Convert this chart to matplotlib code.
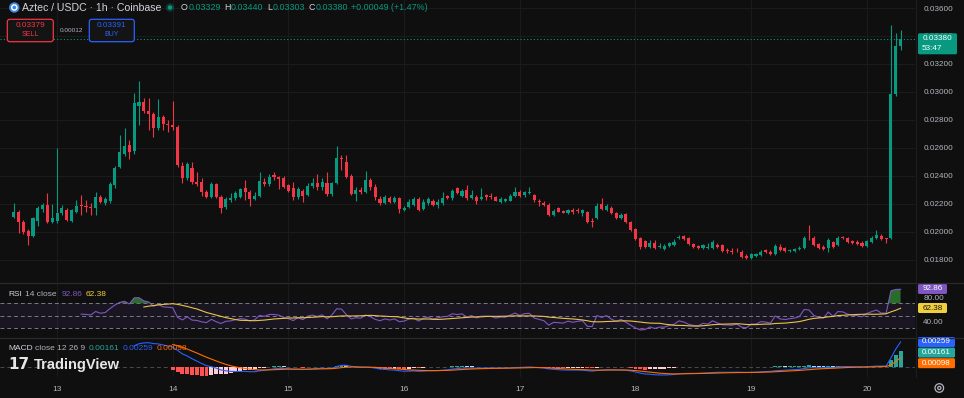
import numpy as np
import matplotlib
matplotlib.use("Agg")
import matplotlib.pyplot as plt
from matplotlib.patches import FancyBboxPatch, Circle

plt.rcParams['font.family'] = ['Liberation Sans', 'DejaVu Sans']

# ---------------- data (prices in units of 0.00001) ----------------
PRICE_UNIT = 1e-5
opens = [2109, 2145, 2074, 2007, 1974, 2081, 2164, 2193, 2071, 2079, 2136, 2157, 2081, 2145, 2193, 2186, 2181, 2174, 2250, 2209,
         2221, 2336, 2466, 2557, 2621, 2579, 2902, 2931, 2864, 2845, 2741, 2824, 2768, 2764, 2752, 2474, 2384, 2459, 2359, 2355,
         2288, 2252, 2341, 2252, 2176, 2229, 2240, 2252, 2316, 2288, 2234, 2257, 2359, 2343, 2407, 2391, 2388, 2336, 2312, 2248,
         2295, 2264, 2329, 2352, 2324, 2352, 2271, 2352, 2526, 2498, 2400, 2269, 2300, 2288, 2371, 2324, 2236, 2209, 2240, 2216,
         2240, 2157, 2181, 2193, 2234, 2162, 2205, 2221, 2193, 2205, 2257, 2240, 2312, 2259, 2300, 2245, 2252, 2236, 2264, 2259,
         2248, 2216, 2221, 2224, 2257, 2288, 2264, 2279, 2264, 2221, 2205, 2193, 2121, 2169, 2150, 2133, 2157, 2157, 2138, 2141,
         2079, 2098, 2198, 2157, 2174, 2138, 2102, 2126, 2074, 2019, 1955, 1938, 1895, 1919, 1890, 1879, 1902, 1907, 1955, 1974,
         1955, 1912, 1902, 1884, 1884, 1884, 1907, 1907, 1869, 1867, 1874, 1860, 1831, 1812, 1831, 1836, 1871, 1859, 1841, 1895,
         1884, 1864, 1867, 1876, 1884, 1959, 1959, 1912, 1895, 1884, 1926, 1907, 1964, 1955, 1936, 1931, 1924, 1902, 1931, 1955,
         1974, 1955, 1955, 2983, 3329]
highs = [2205, 2157, 2086, 2021, 2107, 2186, 2207, 2279, 2200, 2598, 2193, 2171, 2164, 2229, 2264, 2229, 2207, 2286, 2264, 2250,
         2357, 2471, 2693, 2745, 2657, 2991, 3081, 2957, 2955, 2857, 2950, 2836, 2800, 2936, 2764, 2500, 2500, 2500, 2429, 2386,
         2300, 2357, 2350, 2264, 2250, 2279, 2293, 2314, 2371, 2300, 2286, 2429, 2386, 2414, 2431, 2400, 2400, 2343, 2359, 2321,
         2307, 2350, 2386, 2412, 2386, 2426, 2357, 2614, 2550, 2550, 2414, 2321, 2321, 2436, 2386, 2343, 2257, 2264, 2257, 2257,
         2250, 2186, 2236, 2250, 2250, 2236, 2250, 2236, 2236, 2283, 2264, 2307, 2320, 2307, 2336, 2300, 2264, 2312, 2271, 2279,
         2257, 2250, 2243, 2271, 2321, 2300, 2293, 2319, 2271, 2236, 2221, 2207, 2164, 2179, 2157, 2164, 2169, 2169, 2164, 2150,
         2098, 2207, 2245, 2200, 2186, 2143, 2133, 2136, 2081, 2029, 1964, 1945, 1943, 1943, 1921, 1914, 1929, 1950, 1979, 1979,
         1964, 1921, 1907, 1914, 1924, 1943, 1919, 1914, 1884, 1884, 1884, 1871, 1843, 1850, 1850, 1871, 1881, 1871, 1914, 1914,
         1893, 1879, 1886, 1898, 1971, 2050, 1971, 1921, 1907, 1957, 1936, 1971, 1974, 1964, 1943, 1941, 1936, 1943, 1971, 2014,
         1986, 1957, 3479, 3419, 3440]
lows = [2098, 1991, 1986, 1907, 1964, 2040, 2143, 2064, 2064, 2064, 2121, 2079, 2071, 2136, 2121, 2143, 2121, 2121, 2207, 2193,
        2207, 2314, 2457, 2543, 2519, 2557, 2764, 2850, 2729, 2679, 2729, 2729, 2714, 2729, 2464, 2350, 2371, 2343, 2329, 2257,
        2243, 2243, 2243, 2136, 2164, 2214, 2229, 2243, 2229, 2186, 2229, 2250, 2329, 2329, 2371, 2307, 2314, 2286, 2229, 2236,
        2214, 2257, 2314, 2300, 2300, 2257, 2257, 2343, 2443, 2386, 2264, 2224, 2271, 2279, 2300, 2229, 2193, 2200, 2207, 2207,
        2138, 2150, 2171, 2186, 2150, 2157, 2193, 2186, 2171, 2193, 2236, 2229, 2271, 2250, 2229, 2236, 2198, 2229, 2229, 2236,
        2221, 2207, 2214, 2221, 2250, 2250, 2250, 2271, 2214, 2188, 2186, 2114, 2114, 2143, 2136, 2129, 2126, 2133, 2114, 2064,
        2038, 2093, 2157, 2150, 2129, 2093, 2093, 2066, 2007, 1943, 1879, 1886, 1886, 1879, 1884, 1871, 1895, 1900, 1950, 1943,
        1907, 1886, 1879, 1879, 1879, 1879, 1884, 1857, 1848, 1841, 1855, 1817, 1807, 1805, 1821, 1829, 1848, 1836, 1836, 1864,
        1857, 1857, 1859, 1871, 1879, 1943, 1900, 1879, 1871, 1857, 1886, 1900, 1950, 1921, 1912, 1907, 1893, 1893, 1921, 1950,
        1943, 1919, 1950, 2970, 3303]
closes = [2145, 2074, 2002, 1974, 2098, 2169, 2193, 2074, 2100, 2136, 2171, 2086, 2157, 2188, 2186, 2179, 2169, 2252, 2216, 2234,
          2341, 2455, 2569, 2616, 2569, 2924, 2931, 2864, 2841, 2745, 2824, 2769, 2761, 2748, 2479, 2384, 2484, 2355, 2341, 2284,
          2252, 2343, 2252, 2174, 2234, 2245, 2276, 2305, 2288, 2234, 2257, 2366, 2343, 2391, 2391, 2376, 2324, 2295, 2248, 2305,
          2257, 2331, 2352, 2324, 2359, 2271, 2348, 2526, 2519, 2395, 2271, 2300, 2288, 2371, 2324, 2248, 2205, 2248, 2216, 2240,
          2162, 2174, 2216, 2234, 2157, 2216, 2234, 2193, 2216, 2240, 2245, 2295, 2281, 2295, 2240, 2264, 2224, 2252, 2252, 2248,
          2224, 2236, 2234, 2259, 2288, 2259, 2283, 2286, 2229, 2212, 2193, 2121, 2150, 2145, 2138, 2157, 2141, 2150, 2155, 2074,
          2069, 2188, 2162, 2186, 2133, 2098, 2121, 2074, 2014, 1948, 1891, 1895, 1924, 1888, 1902, 1902, 1919, 1931, 1966, 1950,
          1912, 1893, 1884, 1907, 1895, 1926, 1895, 1867, 1864, 1860, 1869, 1824, 1812, 1841, 1841, 1859, 1855, 1843, 1902, 1871,
          1864, 1871, 1876, 1888, 1959, 1955, 1907, 1888, 1879, 1943, 1895, 1959, 1955, 1931, 1919, 1914, 1902, 1936, 1959, 1979,
          1950, 1950, 2983, 3329, 3380]

day_labels = ['13', '14', '15', '16', '17', '18', '19', '20']
day_tick_index = [9, 33, 57, 81, 105, 129, 153, 177]   # candle index at 00:00 of each day
price_ticks = [0.018, 0.020, 0.022, 0.024, 0.026, 0.028, 0.030, 0.032, 0.034, 0.036]
rsi_ticks = [80, 40]
rsi_levels = [70, 50, 30]
rsi_len, ma_len = 14, 14
macd_fast, macd_slow, macd_sig = 12, 26, 9

symbol_title = 'Aztec / USDC · 1h · Coinbase'
ohlc_labels = ['O', 'H', 'L', 'C']
ohlc_values = ['0.03329', '0.03440', '0.03303', '0.03380']
change_text = '+0.00049 (+1.47%)'
sell_price, spread, buy_price = '0.03379', '0.00012', '0.03391'
countdown = '53:47'
rsi_vals_txt = ['92.86', '62.38']
macd_vals_txt = ['0.00161', '0.00259', '0.00098']

# ---------------- derived series ----------------
o = np.array(opens) * PRICE_UNIT
h = np.array(highs) * PRICE_UNIT
l = np.array(lows) * PRICE_UNIT
c = np.array(closes) * PRICE_UNIT
n = len(c)
xi = np.arange(n)


def ema(src, length, start):
    out = np.full(len(src), np.nan)
    s = start + length - 1
    out[s] = np.mean(src[start:s + 1])
    a = 2.0 / (length + 1)
    for i in range(s + 1, len(src)):
        out[i] = a * src[i] + (1 - a) * out[i - 1]
    return out


def rsi_calc(src, length):
    d = np.diff(src)
    g = np.where(d > 0, d, 0.0)
    ls = np.where(d < 0, -d, 0.0)
    out = np.full(len(src), np.nan)
    ag, al = g[:length].mean(), ls[:length].mean()
    out[length] = 100 - 100 / (1 + ag / al) if al > 0 else 100
    for i in range(length + 1, len(src)):
        ag = (ag * (length - 1) + g[i - 1]) / length
        al = (al * (length - 1) + ls[i - 1]) / length
        out[i] = 100 - 100 / (1 + ag / al) if al > 0 else 100
    return out


rsi = rsi_calc(c, rsi_len)
rsi_ma = np.full(n, np.nan)
for i in range(rsi_len + ma_len - 1, n):
    rsi_ma[i] = rsi[i - ma_len + 1:i + 1].mean()

macd = ema(c, macd_fast, 0) - ema(c, macd_slow, 0)
sig = ema(np.nan_to_num(macd), macd_sig, macd_slow - 1)
hist = macd - sig

# ---------------- figure ----------------
W, H = 964, 398
BG = '#0f0f0f'
GRID = '#1c1c1c'
TXT = '#b2b5be'
UP, DN = '#089981', '#f23645'

fig = plt.figure(figsize=(W / 100, H / 100), dpi=100, facecolor=BG)
renderer = fig.canvas.get_renderer()


def rect(x0, y0, x1, y1):
    return [x0 / W, 1 - y1 / H, (x1 - x0) / W, (y1 - y0) / H]


RIGHT = 915
px0, pstep = 13.7, 4.82
xlim = (-px0 / pstep, (RIGHT - px0) / pstep)

ax = fig.add_axes(rect(0, 0, RIGHT, 282))
ar = fig.add_axes(rect(0, 283, RIGHT, 337), sharex=ax)
am = fig.add_axes(rect(0, 338, RIGHT, 377), sharex=ax)

for a in (ax, ar, am):
    a.set_facecolor(BG)
    for s in a.spines.values():
        s.set_visible(False)
    a.set_xlim(*xlim)
    for xv in day_tick_index:
        a.axvline(xv, color=GRID, lw=0.7, zorder=0)

# main price pane
y_top = 0.020 + 232 / 14000
y_bot = 0.020 - 50 / 14000
ax.set_ylim(y_bot, y_top)
for pv in price_ticks:
    ax.axhline(pv, color=GRID, lw=0.7, zorder=0)
cols = np.where(c >= o, UP, DN)
ax.vlines(xi, l, h, colors=cols, lw=0.8, zorder=2)
body_b = np.minimum(o, c)
body_h = np.maximum(np.abs(c - o), 0.00004)
ax.bar(xi, body_h, bottom=body_b, width=0.64, color=cols, zorder=3, linewidth=0)
ax.axhline(c[-1], color=UP, lw=0.8, ls=(0, (1, 2)), zorder=1)
ax.yaxis.tick_right()
ax.set_yticks(price_ticks)
ax.set_yticklabels([f'{v:.5f}' for v in price_ticks])
ax.tick_params(axis='y', length=0, pad=6, labelsize=5.9, labelcolor=TXT)
ax.tick_params(axis='x', length=0, labelbottom=False)

# RSI pane
ar.set_ylim(16, 102.4)
ar.axhspan(rsi_levels[2], rsi_levels[0], color='#7e57c2', alpha=0.10, lw=0, zorder=0)
for lv in rsi_levels:
    ar.axhline(lv, color='#787b86', lw=0.7, ls=(0, (4, 3)), zorder=1)
ar.fill_between(xi, rsi, rsi_levels[0], where=rsi >= rsi_levels[0], interpolate=True,
                color='#2e7d32', alpha=0.85, lw=0, zorder=1)
ar.fill_between(xi, rsi, rsi_levels[2], where=rsi <= rsi_levels[2], interpolate=True,
                color='#b22833', alpha=0.6, lw=0, zorder=1)
ar.plot(xi, rsi, color='#7e57c2', lw=0.8, zorder=3)
ar.plot(xi, rsi_ma, color='#e9c44a', lw=0.8, zorder=3)
ar.yaxis.tick_right()
ar.set_yticks(rsi_ticks)
ar.set_yticklabels([f'{v:.2f}' for v in rsi_ticks])
ar.tick_params(axis='y', length=0, pad=6, labelsize=5.9, labelcolor=TXT)
ar.tick_params(axis='x', length=0, labelbottom=False)

# MACD pane
am.set_ylim(-0.0010, 0.0030)
am.axhline(0, color='#4a4a4a', lw=0.7, ls=(0, (4, 3)), zorder=0)
hcols = []
for i in range(n):
    if np.isnan(hist[i]):
        hcols.append('none')
        continue
    prev = hist[i - 1] if i > 0 and not np.isnan(hist[i - 1]) else hist[i]
    if hist[i] >= 0:
        hcols.append('#26a69a' if hist[i] > prev else '#b2dfdb')
    else:
        hcols.append('#ffcdd2' if hist[i] > prev else '#ff5252')
am.bar(xi, np.nan_to_num(hist), width=0.8, color=hcols, lw=0, zorder=2)
am.plot(xi, macd, color='#2962ff', lw=0.8, zorder=3)
am.plot(xi, sig, color='#ff6d00', lw=0.8, zorder=3)
am.set_yticks([])
am.set_xticks(day_tick_index)
am.set_xticklabels(day_labels)
am.tick_params(axis='x', length=0, pad=6.5, labelsize=6.0, labelcolor=TXT)

# ---------------- overlay (pixel coordinates) ----------------
ov = fig.add_axes([0, 0, 1, 1])
ov.set_xlim(0, W)
ov.set_ylim(H, 0)
ov.axis('off')
ov.patch.set_alpha(0)
ov.set_zorder(10)

for yy in (282.5, 337.5):
    ov.plot([0, W], [yy, yy], color='#2a2a2a', lw=0.9)
ov.plot([RIGHT + 1, RIGHT + 1], [0, 377], color='#1e1e1e', lw=0.8)


def ypix(a, val):
    return H - a.transData.transform((0, val))[1]


def seq_text(x, y, parts, fs):
    """Draw coloured text pieces one after another; parts = (text, colour, gap_after)."""
    for txt, col, gap in parts:
        t = ov.text(x, y, txt, color=col, fontsize=fs, ha='left', va='center')
        x += t.get_window_extent(renderer).width + gap
    return x


def box(x0, yc, w, hgt, fc, txt, tc='white', fs=5.8, ec='none', r=1.5):
    ov.add_patch(FancyBboxPatch((x0, yc - hgt / 2), w, hgt, boxstyle=f'round,pad=0,rounding_size={r}',
                                fc=fc, ec=ec, lw=0.8))
    if txt:
        ov.text(x0 + w / 2, yc, txt, color=tc, fontsize=fs, ha='center', va='center')


# price label + countdown
yp = ypix(ax, c[-1])
ov.add_patch(FancyBboxPatch((918, yp - 5.5), 39, 21, boxstyle='round,pad=0,rounding_size=1.5', fc=UP, ec='none'))
ov.text(937.5, yp, ohlc_values[3], color='white', fontsize=5.9, ha='center', va='center')
ov.text(922, yp + 9.5, countdown, color='white', fontsize=5.9, ha='left', va='center')

# RSI value boxes
box(918, ypix(ar, float(rsi_vals_txt[0])), 29, 10, '#7e57c2', rsi_vals_txt[0])
box(918, ypix(ar, float(rsi_vals_txt[1])), 29, 10, '#f0cf3f', rsi_vals_txt[1], tc='#131313')

# MACD value boxes (stacked to avoid overlap)
mboxes = sorted([(float(macd_vals_txt[1]), '#2962ff', macd_vals_txt[1]),
                 (float(macd_vals_txt[0]), '#26a69a', macd_vals_txt[0]),
                 (float(macd_vals_txt[2]), '#ff6d00', macd_vals_txt[2])], key=lambda t: -t[0])
last_y = -1e9
for val, col, t in mboxes:
    yy = max(ypix(am, val), last_y + 10.6)
    box(918, yy, 37, 10, col, t)
    last_y = yy

# header
ov.add_patch(Circle((14.3, 7.5), 5.2, fc='#3f86e0', ec='none'))
ov.add_patch(Circle((14.3, 7.5), 2.6, fc='none', ec='white', lw=1.0))
ov.text(22.5, 7.8, symbol_title, color='#d1d4dc', fontsize=7.6, ha='left', va='center')
ov.add_patch(Circle((170, 7.5), 4.2, fc=UP, ec='none', alpha=0.3))
ov.add_patch(Circle((170, 7.5), 2.2, fc=UP, ec='none'))
parts = []
for lb, vv in zip(ohlc_labels, ohlc_values):
    parts += [(lb, '#d1d4dc', 0.3), (vv, UP, 3.6)]
parts.append((change_text, UP, 0))
seq_text(181.0, 7.8, parts, 6.4)

# sell / buy
ov.add_patch(FancyBboxPatch((7.3, 19.3), 46, 22.4, boxstyle='round,pad=0,rounding_size=2.5',
                            fc='#141414', ec=DN, lw=0.9))
ov.text(30.3, 25.8, sell_price, color=DN, fontsize=5.9, ha='center', va='center')
ov.text(30.3, 34.2, 'SELL', color=DN, fontsize=5.0, ha='center', va='center')
ov.text(71, 30.5, spread, color=TXT, fontsize=4.6, ha='center', va='center')
ov.add_patch(FancyBboxPatch((89.3, 19.3), 45, 22.4, boxstyle='round,pad=0,rounding_size=2.5',
                            fc='#141414', ec='#2962ff', lw=0.9))
ov.text(111.8, 25.8, buy_price, color='#2962ff', fontsize=5.9, ha='center', va='center')
ov.text(111.8, 34.2, 'BUY', color='#2962ff', fontsize=5.0, ha='center', va='center')

# RSI legend
seq_text(8.3, 294, [('RSI', '#d1d4dc', 3.2), ('14 close', TXT, 5.0),
                    (rsi_vals_txt[0], '#7e57c2', 3.2), (rsi_vals_txt[1], '#f0cf3f', 0)], 6.0)

# MACD legend
seq_text(8.3, 349, [('MACD', '#d1d4dc', 2.2), ('close 12 26 9', TXT, 3.4),
                    (macd_vals_txt[0], '#26a69a', 3.4), (macd_vals_txt[1], '#2962ff', 3.4),
                    (macd_vals_txt[2], '#ff6d00', 0)], 6.0)

# TradingView watermark
ov.text(8.5, 364.5, '17', color='#e6e6e6', fontsize=11, fontweight='heavy', ha='left', va='center',
        family='DejaVu Sans')
ov.text(33.5, 364.5, 'TradingView', color='#e6e6e6', fontsize=10.5, fontweight='bold', ha='left', va='center')

# settings icon
ov.add_patch(Circle((939.3, 388), 4.3, fc='none', ec=TXT, lw=0.9))
ov.add_patch(Circle((939.3, 388), 1.6, fc='none', ec=TXT, lw=0.9))

fig.savefig('out.png', dpi=100, facecolor=BG)
